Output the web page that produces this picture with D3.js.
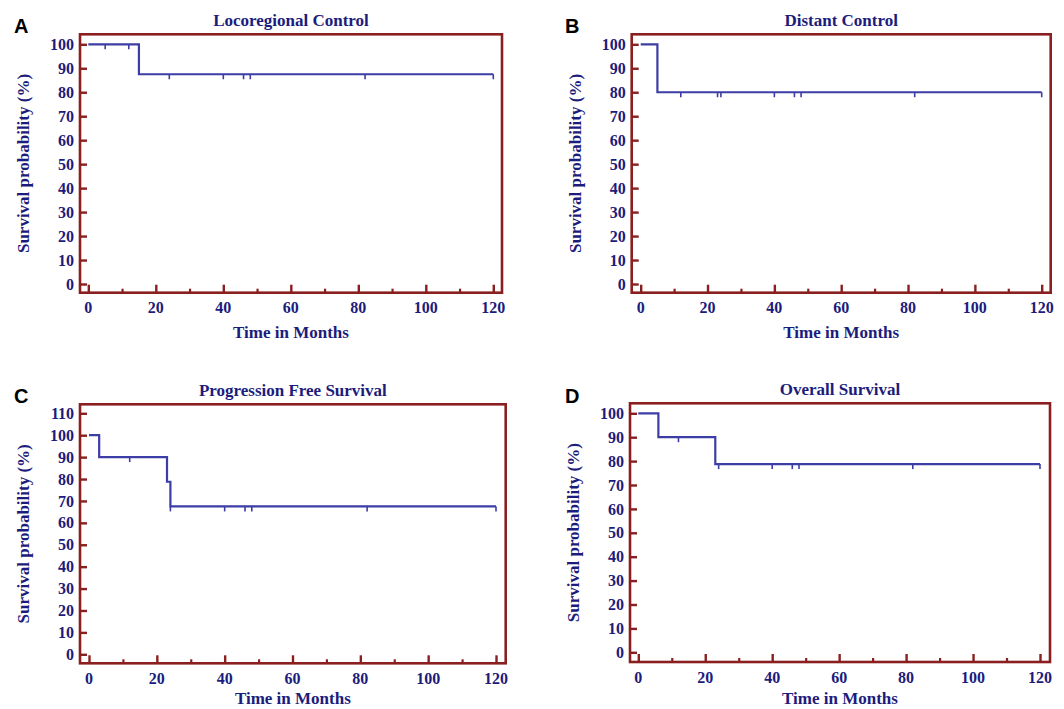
<!DOCTYPE html>
<html>
<head>
<meta charset="utf-8">
<script src="https://cdn.jsdelivr.net/npm/d3@7"></script>
<style>
  html, body { margin: 0; padding: 0; background: #ffffff; }
  svg { display: block; }
</style>
</head>
<body>
<svg id="chart" width="1064" height="709"></svg>
<script>
// ---- Data ----
const panelLetters = ["A", "B", "C", "D"];
const panelTitles = ["Locoregional Control", "Distant Control", "Progression Free Survival", "Overall Survival"];
const xTickValues = [0, 20, 40, 60, 80, 100, 120];
const xMinorTicks = [10, 30, 50, 70, 90, 110];
const yTicksStd = [0, 10, 20, 30, 40, 50, 60, 70, 80, 90, 100];
const yTicksPfs = [0, 10, 20, 30, 40, 50, 60, 70, 80, 90, 100, 110];
const xAxisTitle = "Time in Months";
const yAxisTitle = "Survival probability (%)";

// Kaplan-Meier step series (time in months, survival %)
const lcTimes = [0, 15, 120];
const lcSurv = [100, 87.5, 87.5];
const lcCensor = [5, 12, 24, 40, 46, 48, 82, 120];

const dcTimes = [0, 5, 120];
const dcSurv = [100, 80, 80];
const dcCensor = [12, 23, 24, 40, 46, 48, 82, 120];

const pfsTimes = [0, 3, 23, 24, 120];
const pfsSurv = [100, 90, 78.75, 67.5, 67.5];
const pfsCensor = [12, 24, 40, 46, 48, 82, 120];

const osTimes = [0, 6, 23, 120];
const osSurv = [100, 90, 78.75, 78.75];
const osCensor = [12, 24, 40, 46, 48, 82, 120];

// ---- Layout (pixels) ----
const layouts = [
  { l: 80,    r: 502,    t: 34.3,  b: 292.7, x0: 88.3,  x1: 493.3, y0: 284,   yTop: 44.3,  lx: 14,  ly: 33 },
  { l: 631.7, r: 1050.7, t: 34.3,  b: 292.7, x0: 640.7, x1: 1041.7, y0: 284,  yTop: 44.3,  lx: 565, ly: 33 },
  { l: 80,    r: 505.7,  t: 404.3, b: 663.3, x0: 89,    x1: 496,   y0: 654.3, yTop: 413.3, lx: 14,  ly: 403 },
  { l: 630,   r: 1050,   t: 403.3, b: 662,   x0: 638.3, x1: 1040,  y0: 652.3, yTop: 413.3, lx: 565, ly: 403 }
];

const series = [
  { times: lcTimes, surv: lcSurv, censor: lcCensor, yTicks: yTicksStd },
  { times: dcTimes, surv: dcSurv, censor: dcCensor, yTicks: yTicksStd },
  { times: pfsTimes, surv: pfsSurv, censor: pfsCensor, yTicks: yTicksPfs },
  { times: osTimes, surv: osSurv, censor: osCensor, yTicks: yTicksStd }
];

const frameColor = "#8a1f1f";
const textColor = "#1c1c7c";
const lineColor = "#3d3da6";
const serif = "'Liberation Serif', 'Times New Roman', serif";

const svg = d3.select("#chart");

function stepValue(times, surv, t) {
  let v = surv[0];
  for (let i = 0; i < times.length; i++) {
    if (times[i] <= t) v = surv[i];
  }
  return v;
}

series.forEach((s, i) => {
  const L = layouts[i];
  const yMax = d3.max(s.yTicks);
  const x = d3.scaleLinear().domain([0, 120]).range([L.x0, L.x1]);
  const y = d3.scaleLinear().domain([0, yMax]).range([L.y0, L.yTop]);
  const g = svg.append("g");

  // panel letter
  g.append("text")
    .attr("x", L.lx).attr("y", L.ly)
    .attr("font-family", "'Liberation Sans', Arial, sans-serif")
    .attr("font-weight", "bold").attr("font-size", 20)
    .attr("fill", "#000").text(panelLetters[i]);

  // title
  g.append("text")
    .attr("x", (L.l + L.r) / 2).attr("y", L.t - 8.5)
    .attr("text-anchor", "middle")
    .attr("font-family", serif).attr("font-weight", "bold").attr("font-size", 17)
    .attr("fill", textColor).text(panelTitles[i]);

  // y ticks (inside, from left frame)
  const yAxis = d3.axisRight(y).tickValues(s.yTicks).tickSize(7).tickFormat("");
  const ya = g.append("g").attr("transform", `translate(${L.l},0)`).call(yAxis);
  ya.select(".domain").remove();
  ya.selectAll("line").attr("stroke", frameColor).attr("stroke-width", 2.4);

  // y tick labels
  g.selectAll(null).data(s.yTicks).enter().append("text")
    .attr("x", L.l - 6).attr("y", d => y(d))
    .attr("dy", "0.35em")
    .attr("text-anchor", "end")
    .attr("font-family", serif).attr("font-weight", "bold").attr("font-size", 16)
    .attr("fill", textColor).text(d => d);

  // x ticks (inside, upward from bottom frame)
  const xAxis = d3.axisTop(x).tickValues(xTickValues).tickSize(8).tickFormat("");
  const xa = g.append("g").attr("transform", `translate(0,${L.b})`).call(xAxis);
  xa.select(".domain").remove();
  xa.selectAll("line").attr("stroke", frameColor).attr("stroke-width", 2.4);
  const xMinor = d3.axisTop(x).tickValues(xMinorTicks).tickSize(4).tickFormat("");
  const xm = g.append("g").attr("transform", `translate(0,${L.b})`).call(xMinor);
  xm.select(".domain").remove();
  xm.selectAll("line").attr("stroke", frameColor).attr("stroke-width", 2.2);

  // x tick labels
  g.selectAll(null).data(xTickValues).enter().append("text")
    .attr("x", d => x(d)).attr("y", L.b + 20.5)
    .attr("text-anchor", "middle")
    .attr("font-family", serif).attr("font-weight", "bold").attr("font-size", 16)
    .attr("fill", textColor).text(d => d);

  // frame
  g.append("rect")
    .attr("x", L.l).attr("y", L.t)
    .attr("width", L.r - L.l).attr("height", L.b - L.t)
    .attr("fill", "none").attr("stroke", frameColor).attr("stroke-width", 2.6);

  // axis titles
  g.append("text")
    .attr("x", (L.l + L.r) / 2).attr("y", Math.min(L.b + 45, 704))
    .attr("text-anchor", "middle")
    .attr("font-family", serif).attr("font-weight", "bold").attr("font-size", 17)
    .attr("fill", textColor).text(xAxisTitle);

  const cy = (L.t + L.b) / 2;
  g.append("text")
    .attr("transform", `translate(${L.l - 57},${cy}) rotate(-90)`)
    .attr("text-anchor", "middle").attr("dy", "0.35em")
    .attr("font-family", serif).attr("font-weight", "bold").attr("font-size", 17)
    .attr("fill", textColor).text(yAxisTitle);

  // KM step line
  const pts = s.times.map((t, k) => [t, s.surv[k]]);
  const line = d3.line().x(d => x(d[0])).y(d => y(d[1])).curve(d3.curveStepAfter);
  g.append("path").datum(pts)
    .attr("d", line)
    .attr("fill", "none").attr("stroke", lineColor).attr("stroke-width", 2.2);

  // censor marks (small downward ticks)
  g.selectAll(null).data(s.censor).enter().append("line")
    .attr("x1", d => x(d)).attr("x2", d => x(d))
    .attr("y1", d => y(stepValue(s.times, s.surv, d)))
    .attr("y2", d => y(stepValue(s.times, s.surv, d)) + 5)
    .attr("stroke", lineColor).attr("stroke-width", 1.6);
});
</script>
</body>
</html>
